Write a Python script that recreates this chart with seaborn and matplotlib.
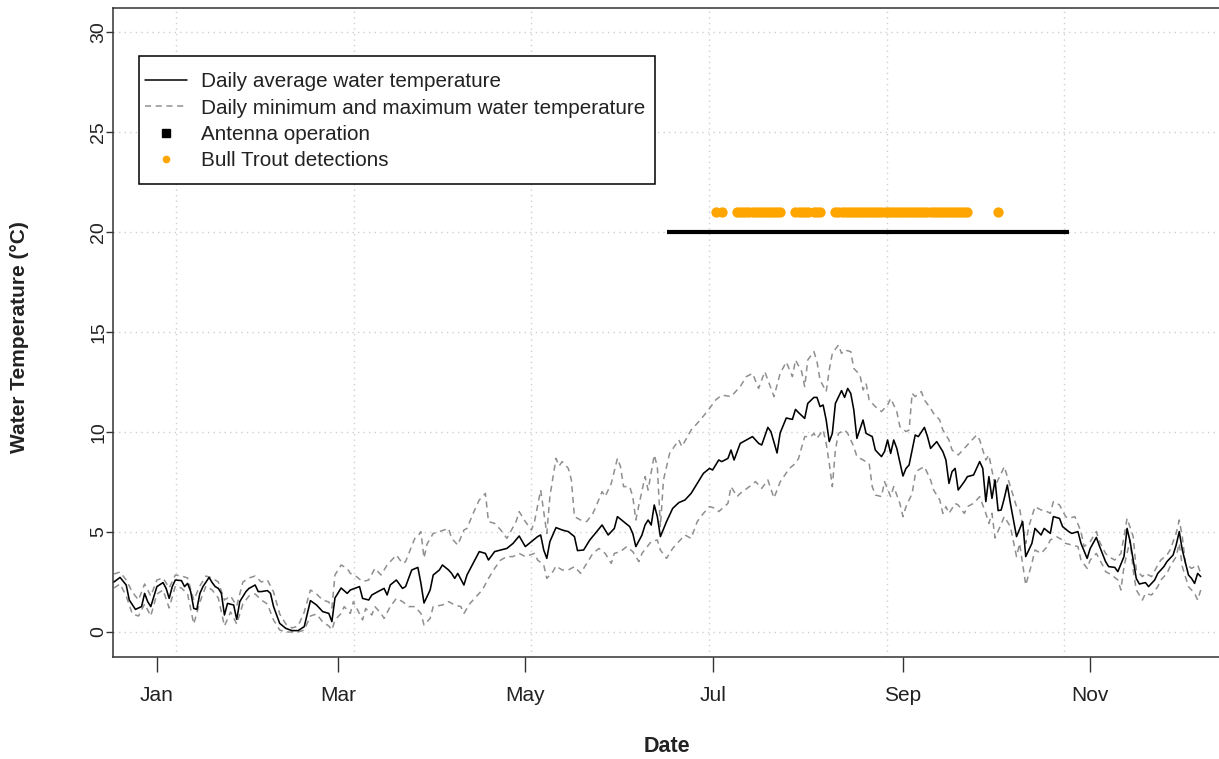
import numpy as np
import pandas as pd
import matplotlib
matplotlib.use("Agg")
import matplotlib.pyplot as plt
import seaborn as sns
from matplotlib.lines import Line2D
from matplotlib.patches import Rectangle

# ---------------- data (day offsets from 1 January) ----------------
BASE = pd.Timestamp("2021-01-01")

avg_day = [-14, -12, -10, -9, -7, -5, -4, -3, -2, 0, 2, 3, 4, 5, 6, 8, 9, 10, 11, 12, 13, 14, 15, 17, 18, 19, 20, 21,
           22, 23, 25, 26, 27, 29, 30, 32, 33, 34, 36, 37, 38, 40, 42, 44, 46, 48, 49, 50, 52, 54, 56, 57, 58, 60,
           62, 63, 66, 67, 69, 70, 72, 74, 75, 76, 78, 80, 81, 83, 85, 86, 87, 89, 90, 92, 93, 95, 96, 97, 98, 100,
           101, 103, 105, 107, 108, 110, 112, 114, 116, 118, 120, 122, 124, 125, 126, 127, 128, 130, 132, 134, 136,
           137, 139, 141, 143, 145, 147, 149, 150, 152, 154, 155, 156, 158, 159, 160, 161, 162, 163, 164, 166, 168,
           170, 172, 174, 176, 178, 180, 181, 183, 184, 186, 187, 188, 190, 192, 194, 196, 197, 199, 200, 202, 203,
           205, 207, 208, 209, 211, 212, 214, 215, 216, 217, 218, 219, 220, 221, 223, 224, 225, 226, 227, 228, 230,
           231, 233, 234, 236, 237, 238, 239, 240, 241, 243, 244, 245, 247, 248, 250, 251, 252, 254, 256, 257, 258,
           259, 260, 261, 263, 264, 266, 268, 269, 270, 271, 272, 273, 274, 275, 276, 277, 278, 280, 282, 283, 285,
           286, 288, 289, 291, 292, 294, 295, 297, 298, 300, 301, 303, 304, 306, 307, 309, 310, 312, 313, 315, 316,
           317, 319, 320, 322, 323, 325, 326, 328, 329, 331, 332, 333, 334, 336, 337, 338, 339, 340]
avg_temp = [2.5, 2.73, 2.35, 1.6, 1.13, 1.27, 1.93, 1.52, 1.27, 2.27, 2.47, 2.18, 1.68, 2.27, 2.6, 2.57, 2.27, 2.43,
            2.02, 1.18, 1.13, 1.93, 2.27, 2.73, 2.47, 2.27, 2.18, 1.93, 0.85, 1.43, 1.35, 0.63, 1.52, 2.02, 2.18, 2.35,
            2.02, 2.02, 2.07, 1.93, 1.27, 0.43, 0.18, 0.07, 0.07, 0.27, 0.93, 1.57, 1.35, 1.02, 0.93, 0.52, 1.7, 2.2,
            1.93, 2.1, 2.27, 1.68, 1.6, 1.85, 2.02, 2.18, 1.85, 2.35, 2.6, 2.18, 2.27, 3.1, 3.23, 2.43, 1.45, 2.1, 2.85,
            3.1, 3.35, 3.1, 2.93, 2.68, 2.93, 2.35, 2.85, 3.43, 4.02, 3.93, 3.6, 4.02, 4.1, 4.18, 4.43, 4.8, 4.27, 4.52,
            4.77, 4.85, 4.1, 3.68, 4.52, 5.22, 5.1, 5.02, 4.77, 4.07, 4.1, 4.6, 4.97, 5.35, 4.85, 5.18, 5.77, 5.52,
            5.27, 4.93, 4.27, 4.85, 5.35, 5.6, 5.35, 6.35, 5.77, 4.77, 5.52, 6.18, 6.47, 6.6, 6.93, 7.43, 7.93, 8.18,
            8.1, 8.6, 8.52, 8.68, 9.1, 8.6, 9.43, 9.6, 9.77, 9.43, 9.35, 10.23, 10.02, 8.95, 9.95, 10.7, 10.63, 11.13,
            10.97, 10.68, 11.43, 11.73, 11.73, 11.27, 11.35, 10.6, 9.52, 9.93, 11.43, 12.07, 11.73, 12.18, 11.93, 11.1,
            9.68, 10.6, 9.93, 9.77, 9.1, 8.77, 9.02, 9.6, 8.93, 9.6, 9.18, 7.8, 8.18, 8.35, 9.85, 9.77, 10.23, 9.77,
            9.18, 9.52, 9.02, 8.6, 7.43, 8.02, 8.18, 7.1, 7.52, 7.77, 7.85, 8.52, 8.18, 6.52, 7.77, 6.68, 7.6, 6.07,
            6.1, 6.68, 7.35, 6.43, 4.77, 5.52, 3.77, 4.43, 5.18, 4.85, 5.18, 4.93, 5.77, 5.68, 5.27, 5.02, 4.93, 5.02,
            4.43, 3.68, 4.18, 4.73, 4.3, 3.52, 3.27, 3.23, 3.02, 3.77, 5.18, 4.52, 2.68, 2.4, 2.47, 2.27, 2.6, 2.93,
            3.27, 3.52, 3.85, 4.35, 5.02, 4.1, 2.85, 2.68, 2.43, 2.93, 2.77]

max_day = [-14, -12, -10, -8, -6, -4, -2, 0, 2, 4, 6, 8, 10, 12, 14, 16, 18, 20, 22, 24, 26, 28, 30, 32, 34, 36, 38,
           40, 42, 44, 46, 48, 50, 52, 54, 56, 57, 58, 60, 62, 63, 65, 67, 69, 71, 73, 75, 78, 80, 81, 84, 85, 86,
           87, 88, 90, 92, 95, 96, 98, 100, 101, 103, 105, 107, 108, 110, 112, 114, 117, 118, 120, 122, 123, 125,
           126, 127, 128, 130, 131, 132, 134, 135, 136, 138, 140, 142, 143, 145, 146, 148, 150, 151, 152, 154, 155,
           156, 157, 159, 160, 162, 163, 164, 165, 167, 170, 171, 174, 177, 180, 182, 184, 187, 190, 192, 194, 196,
           198, 199, 201, 203, 205, 207, 208, 210, 211, 212, 214, 215, 216, 218, 219, 220, 222, 223, 224, 226, 227,
           229, 230, 231, 232, 234, 236, 238, 239, 241, 242, 244, 245, 246, 247, 249, 250, 252, 253, 255, 256, 258,
           259, 261, 263, 265, 267, 268, 270, 271, 273, 275, 276, 278, 280, 281, 283, 284, 286, 288, 289, 291, 292,
           294, 296, 297, 299, 301, 302, 304, 306, 307, 309, 310, 312, 314, 315, 316, 318, 319, 321, 322, 324, 326,
           327, 329, 330, 332, 333, 334, 335, 337, 339, 340]
max_temp = [2.9, 3.0, 2.6, 2.0, 1.6, 2.4, 1.8, 2.6, 2.7, 2.2, 2.85, 2.8, 2.7, 1.6, 2.3, 2.8, 2.7, 2.5, 1.6, 1.8, 1.3,
            2.5, 2.7, 2.8, 2.5, 2.6, 2.0, 0.9, 0.4, 0.2, 0.3, 1.0, 2.1, 1.9, 1.6, 1.5, 1.2, 2.85, 3.35, 3.18, 2.93,
            2.77, 2.52, 2.6, 3.18, 2.85, 3.35, 3.85, 3.43, 3.52, 4.68, 4.8, 5.02, 3.7, 4.4, 4.93, 5.02, 5.18, 4.68,
            4.35, 5.1, 5.18, 5.93, 6.6, 6.93, 5.52, 5.43, 5.1, 4.68, 5.52, 6.02, 5.52, 5.1, 5.52, 7.1, 6.02, 4.93,
            6.77, 8.68, 8.3, 8.52, 8.18, 7.6, 5.77, 5.6, 5.52, 5.93, 6.27, 7.02, 6.77, 7.43, 8.68, 8.27, 7.27, 7.27,
            6.77, 5.6, 6.35, 7.77, 7.1, 8.85, 8.27, 5.27, 7.6, 8.93, 9.6, 9.27, 10.1, 10.6, 11.18, 11.6, 11.85, 11.77,
            12.27, 12.77, 12.93, 12.18, 13.02, 12.6, 11.77, 12.93, 13.5, 12.77, 13.6, 13.02, 12.27, 13.6, 14.02,
            13.52, 12.6, 12.02, 13.1, 13.93, 14.35, 13.93, 14.1, 14.02, 13.18, 12.85, 12.1, 12.43, 11.6, 11.27, 11.02,
            11.35, 11.68, 11.02, 10.27, 10.02, 10.1, 11.93, 11.77, 12.02, 11.6, 11.18, 10.93, 10.6, 10.1, 9.6, 9.1,
            8.85, 9.18, 9.52, 9.85, 9.6, 8.6, 8.85, 7.3, 7.93, 8.27, 7.27, 6.27, 6.18, 4.43, 5.27, 6.27, 6.1, 6.1,
            5.93, 6.52, 6.35, 5.77, 5.68, 5.77, 5.02, 4.27, 4.52, 5.02, 4.52, 3.93, 3.77, 3.6, 3.93, 4.77, 5.68, 4.77,
            3.1, 2.77, 2.93, 2.77, 3.35, 3.6, 3.85, 4.1, 4.93, 5.6, 4.77, 3.43, 3.18, 3.35, 2.93]

min_day = [-14, -12, -10, -8, -6, -4, -2, 0, 2, 4, 6, 8, 10, 12, 14, 16, 18, 20, 22, 24, 26, 28, 30, 32, 34, 36, 38,
           40, 42, 44, 46, 48, 50, 52, 54, 56, 57, 58, 60, 61, 63, 64, 67, 68, 70, 71, 73, 74, 76, 78, 80, 82, 84,
           86, 87, 89, 90, 93, 95, 97, 99, 100, 102, 104, 106, 108, 110, 112, 114, 116, 118, 120, 123, 124, 126,
           127, 129, 130, 132, 134, 136, 138, 140, 142, 144, 146, 148, 149, 151, 153, 155, 157, 158, 161, 163, 164,
           166, 168, 170, 172, 174, 176, 178, 180, 182, 183, 186, 187, 189, 190, 193, 195, 197, 199, 201, 203, 205,
           206, 208, 209, 211, 213, 214, 215, 217, 218, 219, 220, 221, 222, 224, 225, 227, 228, 230, 232, 233, 234,
           236, 237, 239, 240, 242, 243, 244, 246, 247, 248, 250, 252, 253, 255, 256, 257, 258, 260, 261, 263, 264,
           266, 268, 270, 271, 272, 273, 275, 276, 278, 280, 281, 283, 285, 286, 288, 290, 291, 293, 295, 296, 298,
           300, 301, 303, 304, 306, 308, 309, 311, 313, 314, 315, 317, 318, 319, 321, 322, 324, 326, 327, 329, 330,
           332, 333, 334, 336, 338, 339, 340]
min_temp = [2.2, 2.4, 1.8, 0.9, 0.8, 1.4, 0.8, 1.9, 2.1, 1.2, 2.3, 2.2, 1.9, 0.4, 1.5, 2.3, 2.1, 1.7, 0.3, 1.0, 0.4,
            1.4, 1.8, 1.9, 1.6, 1.4, 0.6, 0.1, 0.0, 0.0, 0.0, 0.1, 0.8, 0.9, 0.5, 0.3, 0.1, 0.6, 0.93, 1.27, 0.93,
            1.52, 0.6, 1.18, 0.85, 1.27, 0.93, 0.68, 1.27, 1.68, 1.52, 1.27, 1.27, 0.93, 0.35, 0.68, 1.27, 1.35, 1.52,
            1.35, 1.27, 0.93, 1.43, 1.77, 2.1, 2.68, 3.18, 3.6, 3.77, 3.77, 3.93, 3.77, 3.93, 3.6, 3.35, 2.68, 3.02,
            3.3, 3.1, 3.1, 3.27, 2.93, 3.43, 3.93, 4.18, 3.93, 3.43, 3.93, 4.02, 4.27, 4.02, 3.52, 3.93, 4.52, 4.6,
            4.1, 3.68, 4.18, 4.52, 4.85, 4.68, 5.52, 5.93, 6.27, 6.18, 6.02, 6.43, 7.27, 6.77, 6.93, 7.27, 7.52, 7.18,
            7.6, 6.7, 7.5, 7.95, 8.18, 8.43, 8.68, 9.77, 9.77, 9.93, 9.68, 10.1, 9.43, 8.43, 7.27, 9.1, 9.93, 10.1,
            9.93, 9.27, 8.77, 8.6, 8.43, 7.27, 6.85, 6.77, 7.52, 6.77, 7.27, 6.43, 5.77, 6.27, 6.93, 7.85, 8.1, 8.27,
            7.6, 7.1, 6.6, 5.93, 6.27, 5.93, 6.43, 6.35, 5.93, 6.27, 6.43, 6.77, 5.93, 5.43, 5.93, 4.7, 5.4, 5.77,
            5.27, 3.77, 4.43, 2.35, 3.43, 4.1, 3.93, 4.27, 4.6, 4.77, 4.6, 4.43, 4.35, 4.27, 3.6, 3.18, 3.6, 3.93,
            3.35, 3.02, 2.85, 2.6, 2.1, 3.27, 4.6, 3.1, 2.1, 1.6, 1.93, 1.85, 2.27, 2.6, 2.93, 3.27, 3.77, 4.43, 3.27,
            2.27, 1.93, 1.6, 2.1]

antenna_days = [166, 297]
antenna_level = 20

detection_days = [182, 184, 189, 190, 191, 192, 193, 194, 195, 196, 197, 198, 199, 200, 201, 202, 203,
                  208, 209, 210, 211, 212, 214, 215, 216,
                  221, 222, 223, 224, 225, 226, 227, 228, 229, 230, 231, 232, 233, 234, 235, 236, 237, 238, 239,
                  240, 241, 242, 243, 244, 245, 246, 247, 248, 249, 250, 251, 252, 253, 254, 255, 256, 257, 258,
                  259, 260, 261, 262, 263, 264, 274]
detection_level = 21

month_ticks = ["2021-01-01", "2021-03-01", "2021-05-01", "2021-07-01", "2021-09-01", "2021-11-01"]
month_labels = ["Jan", "Mar", "May", "Jul", "Sep", "Nov"]
y_ticks = [0, 5, 10, 15, 20, 25, 30]

legend_labels = ["Daily average water temperature",
                 "Daily minimum and maximum water temperature",
                 "Antenna operation",
                 "Bull Trout detections"]


def to_dates(days):
    return BASE + pd.to_timedelta(np.asarray(days, dtype=float), unit="D")


# ---------------- figure ----------------
sns.set_style("white")
plt.rcParams["font.family"] = ["Liberation Sans", "DejaVu Sans"]

W, H = 1219, 759
fig = plt.figure(figsize=(W / 100, H / 100), dpi=100)
ax_l, ax_r, ax_t, ax_b = 113, 1221, 8, 657
ax = fig.add_axes([ax_l / W, 1 - ax_b / H, (ax_r - ax_l) / W, (ax_b - ax_t) / H])


def px_to_axes(x, y):
    return (x - ax_l) / (ax_r - ax_l), (ax_b - y) / (ax_b - ax_t)


GRID = "#cfcfcf"
DASHGREY = "#8f8f8f"
TXT = "#222222"

# grid (R grid(): pretty positions in seconds -> every 5e6 s)
for yv in y_ticks:
    ax.axhline(yv, color=GRID, lw=1.0, dashes=(1, 3), zorder=0)
grid_secs = np.arange(322, 329) * 5e6
for gx in pd.to_datetime(grid_secs, unit="s"):
    ax.axvline(gx, color=GRID, lw=1.0, dashes=(1, 3), zorder=0)

sns.lineplot(x=to_dates(max_day), y=max_temp, ax=ax, color=DASHGREY, lw=1.1, zorder=2)
ax.lines[-1].set_dashes((4, 3))
sns.lineplot(x=to_dates(min_day), y=min_temp, ax=ax, color=DASHGREY, lw=1.1, zorder=2)
ax.lines[-1].set_dashes((4, 3))
sns.lineplot(x=to_dates(avg_day), y=avg_temp, ax=ax, color="black", lw=1.15, zorder=3)

sns.lineplot(x=to_dates(antenna_days), y=[antenna_level] * len(antenna_days), ax=ax,
             color="black", lw=3.0, zorder=3, solid_capstyle="butt")
sns.scatterplot(x=to_dates(detection_days), y=[detection_level] * len(detection_days), ax=ax,
                color="#FFA500", s=55, linewidth=0, zorder=4)

ax.set_xlim(BASE + pd.Timedelta(days=-14.3), BASE + pd.Timedelta(days=346.6))
ax.set_ylim(-1.25, 31.2)

ax.set_xticks(pd.to_datetime(month_ticks))
ax.set_xticklabels(month_labels)
ax.set_yticks(y_ticks)
ax.set_yticklabels([str(v) for v in y_ticks], rotation=90, va="center")
ax.tick_params(axis="x", length=11, width=1, pad=10, labelsize=15, color="#333333", labelcolor=TXT)
ax.tick_params(axis="y", length=5, width=1, pad=-1, labelsize=14, color="#333333", labelcolor=TXT)
ax.tick_params(bottom=True, left=True)

for side in ["left", "bottom", "top", "right"]:
    ax.spines[side].set_visible(True)
    ax.spines[side].set_color("#333333")
    ax.spines[side].set_linewidth(1.1)

ax.set_xlabel("Date", fontsize=15.5, fontweight="bold", labelpad=22, color=TXT)
fig.text(20 / W, 1 - 337 / H, "Water Temperature (\u00b0C)", rotation=90, ha="center", va="center",
         fontsize=15, fontweight="bold", color=TXT)

# legend: frame drawn as R-style box, entries placed inside
LFS = 14.85
bx0, by1 = px_to_axes(139, 56)
bx1, by0 = px_to_axes(655, 184)
ax.add_patch(Rectangle((bx0, by0), bx1 - bx0, by1 - by0, transform=ax.transAxes,
                       fill=True, facecolor="white", edgecolor="black", lw=1.1, zorder=5))
handles = [Line2D([], [], color="black", lw=1.1),
           Line2D([], [], color=DASHGREY, lw=1.1, dashes=(4, 3)),
           Line2D([], [], color="black", marker="s", ls="none", markersize=6),
           Line2D([], [], color="#FFA500", marker="o", ls="none", markersize=4.5)]
leg = ax.legend(handles, legend_labels, loc="upper left",
                bbox_to_anchor=px_to_axes(139, 66), borderaxespad=0, fontsize=LFS,
                frameon=False, handlelength=2.04, handletextpad=0.68,
                labelspacing=0.36, borderpad=0.3)
leg.set_zorder(6)
for t in leg.get_texts():
    t.set_color(TXT)

fig.savefig("out.png", dpi=100)
